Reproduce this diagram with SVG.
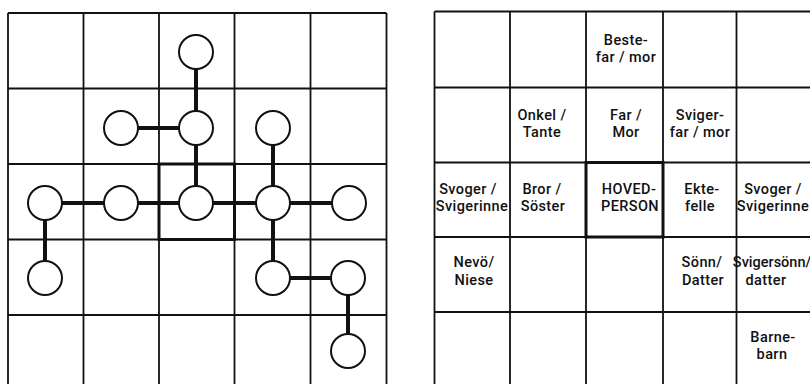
<svg xmlns="http://www.w3.org/2000/svg" width="810" height="384" viewBox="0 0 810 384">
<style>
.grid{stroke:#111;stroke-width:1.8;fill:none}
.ego{stroke:#111;stroke-width:3;fill:none}
.node{fill:#fff;stroke:#111;stroke-width:2}
.edge{stroke:#111;stroke-width:4;stroke-linecap:butt}
.lbl{font-family:Roboto,"Liberation Sans",Arial,sans-serif;font-size:14.5px;font-weight:500;fill:#111;text-anchor:middle;letter-spacing:0.4px}
</style>
<rect width="810" height="384" fill="#fff"/>
<g id="left-grid">
<path class="grid" d="M8,13H386.5M8,88.5H386.5M8,164H386.5M8,239.5H386.5M8,315H386.5M8,13V392M83.5,13V392M159,13V392M234.5,13V392M310.5,13V392M386.5,13V392"/>
<rect class="ego" x="159" y="164" width="75.5" height="75.5"/>
</g>
<g id="connectors">
<line class="edge" x1="196" y1="52" x2="196" y2="203"/>
<line class="edge" x1="121" y1="128" x2="196" y2="128"/>
<line class="edge" x1="273" y1="128" x2="273" y2="278"/>
<line class="edge" x1="44" y1="203" x2="349" y2="203"/>
<line class="edge" x1="45" y1="203" x2="45" y2="278"/>
<line class="edge" x1="273" y1="278" x2="348" y2="278"/>
<line class="edge" x1="348" y1="278" x2="348" y2="351"/>
</g>
<g id="n-grandparent"><circle class="node" cx="196" cy="52" r="17"/></g>
<g id="n-uncle"><circle class="node" cx="121" cy="128" r="17"/></g>
<g id="n-parent"><circle class="node" cx="196" cy="128" r="17"/></g>
<g id="n-parent-in-law"><circle class="node" cx="273" cy="128" r="17"/></g>
<g id="n-sibling-in-law-l"><circle class="node" cx="45" cy="203" r="17"/></g>
<g id="n-sibling"><circle class="node" cx="121" cy="203" r="17"/></g>
<g id="n-ego"><circle class="node" cx="196" cy="203" r="17"/></g>
<g id="n-spouse"><circle class="node" cx="273" cy="203" r="17"/></g>
<g id="n-sibling-in-law-r"><circle class="node" cx="349" cy="203" r="17"/></g>
<g id="n-nephew"><circle class="node" cx="45" cy="278" r="17"/></g>
<g id="n-child"><circle class="node" cx="273" cy="278" r="17"/></g>
<g id="n-child-in-law"><circle class="node" cx="348" cy="278" r="17"/></g>
<g id="n-grandchild"><circle class="node" cx="348" cy="351" r="17"/></g>
<g id="right-grid">
<path class="grid" d="M434.5,11.5H812M434.5,87.5H812M434.5,162.5H812M434.5,237H812M434.5,312H812M434.5,11.5V392M510,11.5V392M586,11.5V392M663,11.5V392M736.5,11.5V392"/>
<rect class="ego" x="586" y="162.5" width="77" height="74.5"/>
</g>
<g id="c-beste"><text class="lbl" x="626" y="45">Beste-</text><text class="lbl" x="626" y="62">far / mor</text></g>
<g id="c-onkel"><text class="lbl" x="542" y="120">Onkel /</text><text class="lbl" x="542" y="137">Tante</text></g>
<g id="c-far"><text class="lbl" x="626" y="120">Far /</text><text class="lbl" x="626" y="137">Mor</text></g>
<g id="c-sviger"><text class="lbl" x="700" y="120">Sviger-</text><text class="lbl" x="700" y="137">far / mor</text></g>
<g id="c-svoger-l"><text class="lbl" x="468" y="194">Svoger /</text><text class="lbl" x="472" y="211">Svigerinne</text></g>
<g id="c-bror"><text class="lbl" x="542" y="194">Bror /</text><text class="lbl" x="543" y="211">Söster</text></g>
<g id="c-hoved"><text class="lbl" x="629" y="194">HOVED-</text><text class="lbl" x="630" y="211">PERSON</text></g>
<g id="c-ekte"><text class="lbl" x="702" y="194">Ekte-</text><text class="lbl" x="700" y="211">felle</text></g>
<g id="c-svoger-r"><text class="lbl" x="773" y="194">Svoger /</text><text class="lbl" x="773" y="211">Svigerinne</text></g>
<g id="c-nevo"><text class="lbl" x="474" y="267">Nevö/</text><text class="lbl" x="474" y="285">Niese</text></g>
<g id="c-sonn"><text class="lbl" x="702" y="267">Sönn/</text><text class="lbl" x="703" y="285">Datter</text></g>
<g id="c-svigersonn"><text class="lbl" x="772" y="267" style="letter-spacing:0">Svigersönn/</text><text class="lbl" x="766" y="285">datter</text></g>
<g id="c-barne"><text class="lbl" x="773" y="342">Barne-</text><text class="lbl" x="772" y="359">barn</text></g>
</svg>
